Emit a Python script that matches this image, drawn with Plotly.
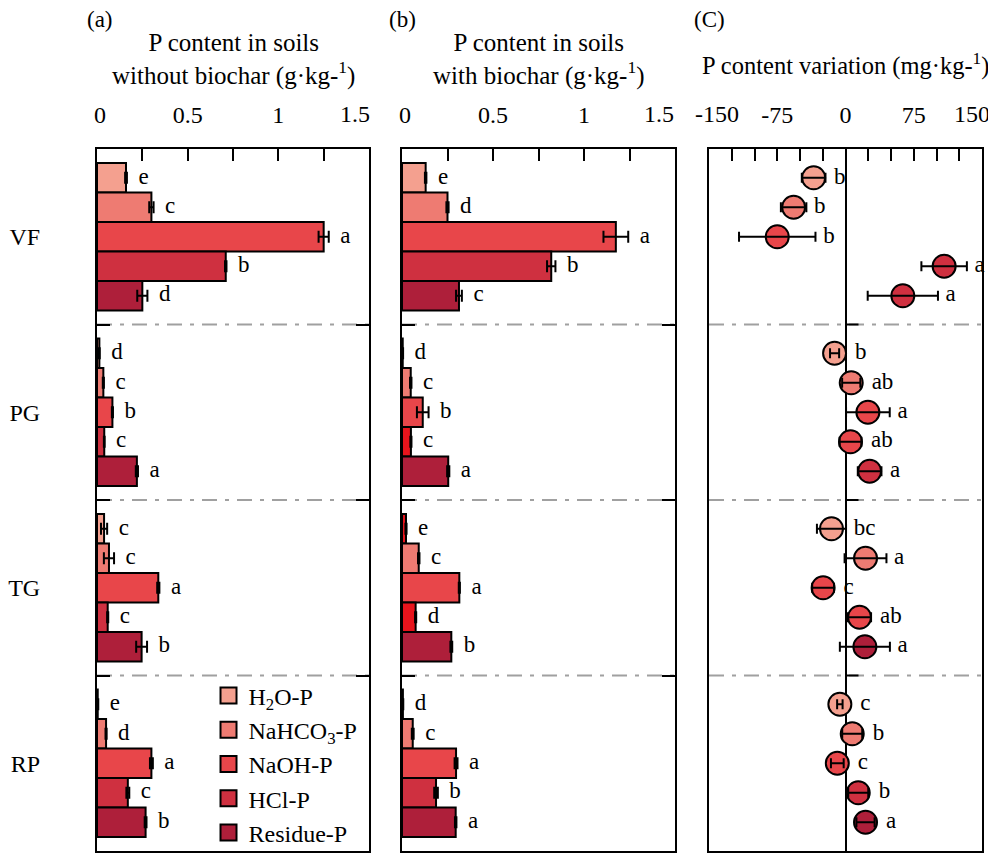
import plotly.graph_objects as go

# ---------------- data ----------------
sites = ["VF", "PG", "TG", "RP"]
fraction_keys = ["H2O-P", "NaHCO3-P", "NaOH-P", "HCl-P", "Residue-P"]
fraction_labels = ["H<sub>2</sub>O-P", "NaHCO<sub>3</sub>-P", "NaOH-P", "HCl-P", "Residue-P"]

# (a) P content in soils without biochar (g/kg), order of sites: VF, PG, TG, RP
a_h2o = [0.16, 0.013, 0.039, 0.004]
a_nahco3 = [0.30, 0.035, 0.066, 0.05]
a_naoh = [1.25, 0.085, 0.338, 0.30]
a_hcl = [0.71, 0.04, 0.059, 0.17]
a_res = [0.25, 0.22, 0.246, 0.268]
a_h2o_err = [0.005, 0.002, 0.017, 0.003]
a_nahco3_err = [0.012, 0.003, 0.028, 0.003]
a_naoh_err = [0.028, 0.003, 0.006, 0.008]
a_hcl_err = [0.004, 0.002, 0.003, 0.008]
a_res_err = [0.028, 0.006, 0.03, 0.005]
a_h2o_let = ["e", "d", "c", "e"]
a_nahco3_let = ["c", "c", "c", "d"]
a_naoh_let = ["a", "b", "a", "a"]
a_hcl_let = ["b", "c", "c", "c"]
a_res_let = ["d", "a", "b", "b"]

# (b) P content in soils with biochar (g/kg)
b_h2o = [0.13, 0.004, 0.022, 0.005]
b_nahco3 = [0.25, 0.048, 0.092, 0.059]
b_naoh = [1.175, 0.114, 0.315, 0.297]
b_hcl = [0.82, 0.049, 0.075, 0.187]
b_res = [0.313, 0.254, 0.271, 0.295]
b_h2o_err = [0.004, 0.002, 0.003, 0.002]
b_nahco3_err = [0.006, 0.004, 0.004, 0.005]
b_naoh_err = [0.068, 0.032, 0.003, 0.008]
b_hcl_err = [0.023, 0.003, 0.003, 0.01]
b_res_err = [0.016, 0.006, 0.005, 0.004]
b_h2o_let = ["e", "d", "e", "d"]
b_nahco3_let = ["d", "c", "c", "c"]
b_naoh_let = ["a", "b", "a", "a"]
b_hcl_let = ["b", "c", "d", "b"]
b_res_let = ["c", "a", "b", "a"]

# (C) P content variation (mg/kg)
c_h2o = [-35, -12, -15.4, -6.2]
c_nahco3 = [-57, 6.3, 22, 7.4]
c_naoh = [-75, 24.6, -24.6, -9]
c_hcl = [108.4, 5.5, 15.4, 14]
c_res = [63, 26.5, 21.3, 22]
c_h2o_err = [13, 5, 16, 3]
c_nahco3_err = [14, 10, 23, 11]
c_naoh_err = [42, 24, 12, 7]
c_hcl_err = [25, 12, 12.7, 11]
c_res_err = [38.6, 13, 27.5, 10]
c_h2o_let = ["b", "b", "bc", "c"]
c_nahco3_let = ["b", "ab", "a", "b"]
c_naoh_let = ["b", "a", "c", "c"]
c_hcl_let = ["a", "ab", "ab", "b"]
c_res_let = ["a", "a", "a", "a"]

NB = "\u00a0"
# tick marks every 0.25 / 25; labels at 0, 0.5, 1 (/ -75, 0, 75); edge labels set as annotations
a_ticks = [0, 0.25, 0.5, 0.75, 1, 1.25, 1.5]
a_ticktext = [NB + "0", "", "0.5", "", "1", "", ""]
c_ticks = [-150, -125, -100, -75, -50, -25, 0, 25, 50, 75, 100, 125, 150]
c_ticktext = ["", "", "", "-75", "", "", "0", "", "", "75", "", "", ""]
a_edge_label = "1.5"
c_edge_labels = ["-150", "150"]

# ---------------- style ----------------
FONT = "Liberation Serif"
C_H2O, C_NAHCO3, C_NAOH, C_HCL, C_RES = "#F4A08F", "#EE7B72", "#E8464A", "#CF3040", "#AE1F3A"
C_BRIGHT = "#E8141C"
frac_colors = [C_H2O, C_NAHCO3, C_NAOH, C_HCL, C_RES]
b_bar_colors = [
    [C_H2O, C_H2O, C_BRIGHT, C_H2O],
    [C_NAHCO3] * 4,
    [C_NAOH] * 4,
    [C_HCL, C_BRIGHT, C_BRIGHT, C_HCL],
    [C_RES] * 4,
]
c_marker_colors = [
    [C_H2O] * 4,
    [C_NAHCO3] * 4,
    [C_NAOH] * 4,
    [C_HCL, C_NAOH, C_NAOH, C_HCL],
    [C_HCL, C_HCL, C_RES, C_RES],
]

A_vals = [a_h2o, a_nahco3, a_naoh, a_hcl, a_res]
A_err = [a_h2o_err, a_nahco3_err, a_naoh_err, a_hcl_err, a_res_err]
A_let = [a_h2o_let, a_nahco3_let, a_naoh_let, a_hcl_let, a_res_let]
B_vals = [b_h2o, b_nahco3, b_naoh, b_hcl, b_res]
B_err = [b_h2o_err, b_nahco3_err, b_naoh_err, b_hcl_err, b_res_err]
B_let = [b_h2o_let, b_nahco3_let, b_naoh_let, b_hcl_let, b_res_let]
C_vals = [c_h2o, c_nahco3, c_naoh, c_hcl, c_res]
C_err = [c_h2o_err, c_nahco3_err, c_naoh_err, c_hcl_err, c_res_err]
C_let = [c_h2o_let, c_nahco3_let, c_naoh_let, c_hcl_let, c_res_let]

fig = go.Figure()

LET_SIZE = 23
TICK_SIZE = 24
BAR_PAD = "\u2002"          # gap between bar/error end and letter
PT_PAD = "\u00a0\u200a"     # gap between point/error end and letter


def add_bar_panel(vals, errs, lets, colors, xa, ya):
    for k, key in enumerate(fraction_keys):
        fig.add_trace(go.Bar(
            x=vals[k], y=sites, orientation="h", name=key, offsetgroup=key,
            marker=dict(color=colors[k], line=dict(color="black", width=2)),
            error_x=dict(type="data", array=errs[k], color="black", thickness=2, width=6),
            xaxis=xa, yaxis=ya, showlegend=False, hoverinfo="skip",
        ))
    for k, key in enumerate(fraction_keys):
        fig.add_trace(go.Scatter(
            x=[v + e for v, e in zip(vals[k], errs[k])], y=sites, mode="text",
            text=[BAR_PAD + t for t in lets[k]], textposition="middle right",
            textfont=dict(size=LET_SIZE, family=FONT, color="black"),
            orientation="h", offsetgroup=key,
            xaxis=xa, yaxis=ya, showlegend=False, cliponaxis=False, hoverinfo="skip",
        ))


add_bar_panel(A_vals, A_err, A_let, [[c] * 4 for c in frac_colors], "x", "y")
add_bar_panel(B_vals, B_err, B_let, b_bar_colors, "x2", "y2")

# panel C: points
for k, key in enumerate(fraction_keys):
    fig.add_trace(go.Scatter(
        x=C_vals[k], y=sites, mode="markers", orientation="h", offsetgroup=key,
        marker=dict(size=23, color=c_marker_colors[k], line=dict(color="black", width=2)),
        xaxis="x3", yaxis="y3", showlegend=False, hoverinfo="skip", cliponaxis=False,
    ))
for k, key in enumerate(fraction_keys):
    fig.add_trace(go.Scatter(
        x=C_vals[k], y=sites, mode="markers", orientation="h", offsetgroup=key,
        marker=dict(size=2, opacity=0),
        error_x=dict(type="data", array=C_err[k], color="black", thickness=2, width=5),
        xaxis="x3", yaxis="y3", showlegend=False, hoverinfo="skip", cliponaxis=False,
    ))
for k, key in enumerate(fraction_keys):
    fig.add_trace(go.Scatter(
        x=[v + max(e, 14) for v, e in zip(C_vals[k], C_err[k])], y=sites, mode="text",
        text=[PT_PAD + t for t in C_let[k]], textposition="middle right",
        orientation="h", offsetgroup=key,
        textfont=dict(size=LET_SIZE, family=FONT, color="black"),
        xaxis="x3", yaxis="y3", showlegend=False, hoverinfo="skip", cliponaxis=False,
    ))

# legend entries
for k, key in enumerate(fraction_keys):
    fig.add_trace(go.Scatter(
        x=[None], y=[None], mode="markers", name=fraction_labels[k], offsetgroup=key,
        orientation="h",
        marker=dict(symbol="square", size=16, color=frac_colors[k], line=dict(color="black", width=2)),
        xaxis="x", yaxis="y", showlegend=True,
    ))

# ---------------- layout ----------------
# the page body adds an 8 px offset, so the figure is 8 px smaller and shifted accordingly
W, H = 988, 851
ML, MR, MT, MB = 89, 14, 141, 8
PW = W - ML - MR
dom_a = [0, 272 / PW]
dom_b = [305 / PW, 578 / PW]
dom_c = [612 / PW, 1]

axis_common = dict(showline=True, linecolor="black", linewidth=2, mirror=True, automargin=False,
                   showgrid=False, zeroline=False, tickcolor="black", tickwidth=2)
xcommon = dict(axis_common, side="top", ticks="inside", ticklen=12,
               ticklabelstandoff=14, tickfont=dict(size=TICK_SIZE, family=FONT, color="black"))
ycommon = dict(axis_common, type="category", categoryarray=sites, categoryorder="array",
               range=[3.5, -0.5], tickson="boundaries", ticklen=13)

fig.update_layout(
    width=W, height=H,
    margin=dict(l=ML, r=MR, t=MT, b=MB, autoexpand=False),
    paper_bgcolor="white", plot_bgcolor="white",
    font=dict(family=FONT, color="black"),
    barmode="group", bargap=0.16, bargroupgap=0,
    scattermode="group", scattergap=0.16,
    xaxis=dict(xcommon, domain=dom_a, anchor="y", range=[0, 1.5],
               tickmode="array", tickvals=a_ticks, ticktext=a_ticktext),
    yaxis=dict(ycommon, domain=[0, 1], anchor="x", ticks="inside", mirror="ticks",
               ticklabelstandoff=50, tickfont=dict(size=24, family=FONT, color="black")),
    xaxis2=dict(xcommon, domain=dom_b, anchor="y2", range=[0, 1.5],
                tickmode="array", tickvals=a_ticks, ticktext=a_ticktext),
    yaxis2=dict(ycommon, domain=[0, 1], anchor="x2", ticks="inside", mirror="ticks",
                showticklabels=False),
    xaxis3=dict(xcommon, domain=dom_c, anchor="y3", range=[-150, 150],
                tickmode="array", tickvals=c_ticks, ticktext=c_ticktext,
                zeroline=True, zerolinecolor="black", zerolinewidth=2),
    yaxis3=dict(ycommon, domain=[0, 1], anchor="x3", ticks="", showticklabels=False),
    legend=dict(x=0.126, y=-0.005, xanchor="left", yanchor="bottom",
                font=dict(size=24, family=FONT, color="black"),
                bgcolor="rgba(0,0,0,0)", tracegroupgap=0, itemwidth=30),
)

# separators between site groups
shapes = []
for b in [i + 0.5 for i in range(len(sites) - 1)]:
    for xa, ya in [("x", "y"), ("x2", "y2"), ("x3", "y3")]:
        shapes.append(dict(type="line", xref=f"{xa} domain", yref=ya, x0=0, x1=1, y0=b, y1=b,
                           line=dict(color="#A0A0A0", width=2, dash="15px,8px,4px,8px"),
                           layer="below"))
    shapes.append(dict(type="line", xref="x3", yref="y3", xsizemode="pixel", xanchor=0,
                       x0=0, x1=13, y0=b, y1=b, line=dict(color="black", width=2)))
fig.update_layout(shapes=shapes)

# edge tick labels, pulled inside the panel edge
tick_font = dict(size=TICK_SIZE, family=FONT, color="black")
edge_labels = [
    ("x", a_ticks[-1], a_edge_label, "right", 3),
    ("x2", a_ticks[-1], a_edge_label, "right", 1),
    ("x3", c_ticks[0], c_edge_labels[0], "left", -16),
    ("x3", c_ticks[-1], c_edge_labels[1], "right", 10),
]
for xa, xv, txt, anc, xs in edge_labels:
    fig.add_annotation(xref=xa, yref="paper", x=xv, y=1, yshift=35, xshift=xs, text=txt,
                       showarrow=False, xanchor=anc, yanchor="middle", font=tick_font)

# titles and panel labels
titles = [
    ("x", "P content in soils<br>without biochar (g·kg-<sup>1</sup>)", 90, 25),
    ("x2", "P content in soils<br>with biochar (g·kg-<sup>1</sup>)", 90, 25),
    ("x3", "P content variation (mg·kg-<sup>1</sup>)", 85, 24.5),
]
for xa, txt, ys, fs in titles:
    fig.add_annotation(xref=f"{xa} domain", yref="paper", x=0.5, y=1, yshift=ys,
                       text=txt, showarrow=False, xanchor="center", yanchor="middle",
                       font=dict(size=fs, family=FONT, color="black"))
for xa, lab, xs in [("x", "(a)", 3), ("x2", "(b)", 0), ("x3", "(C)", 0)]:
    fig.add_annotation(xref=f"{xa} domain", yref="paper", x=0, y=1, yshift=130, xshift=xs,
                       text=lab, showarrow=False, xanchor="center", yanchor="middle",
                       font=dict(size=23, family=FONT, color="black"))

fig.write_html("out.html")
